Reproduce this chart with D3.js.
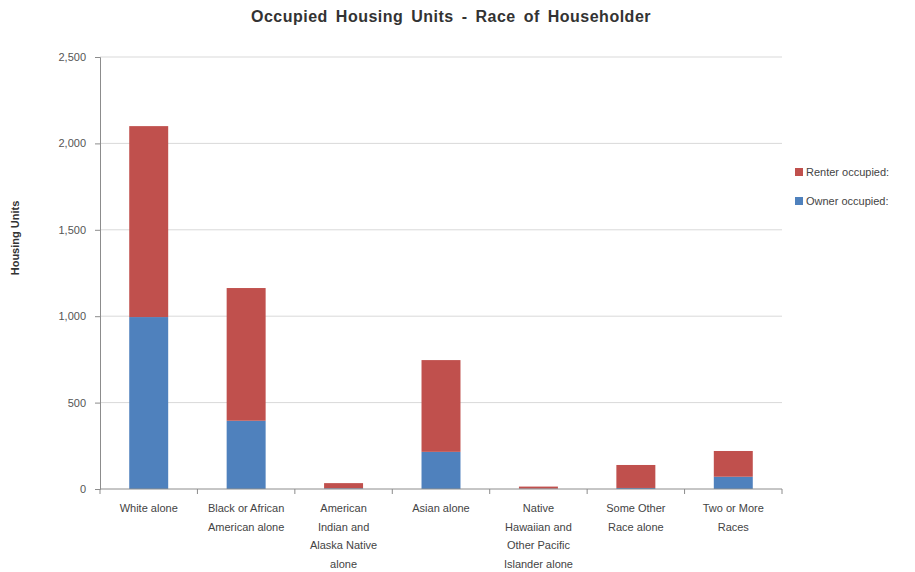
<!DOCTYPE html>
<html>
<head>
<meta charset="utf-8">
<script src="https://cdn.jsdelivr.net/npm/d3@7"></script>
<style>
body{margin:0;background:#fff;}
svg{display:block;font-family:"Liberation Sans",Arial,sans-serif;}
</style>
</head>
<body>
<svg id="chart" width="915" height="572"></svg>
<script>
// data ---------------------------------------------------------
var categories = [
	["White alone"],
	["Black or African", "American alone"],
	["American", "Indian and", "Alaska Native", "alone"],
	["Asian alone"],
	["Native", "Hawaiian and", "Other Pacific", "Islander alone"],
	["Some Other", "Race alone"],
	["Two or More", "Races"]
];
var ownerOccupied = [995, 395, 4, 215, 2, 6, 71];
var renterOccupied = [1105, 768, 30, 531, 12, 133, 149];
var seriesNames = ["Owner occupied:", "Renter occupied:"];
var seriesColors = ["#4F81BD", "#C0504D"];
var yTicks = [0, 500, 1000, 1500, 2000, 2500];

// build table for stack
var table = categories.map(function(c, i){
	return {key: i, owner: ownerOccupied[i], renter: renterOccupied[i]};
});

var svg = d3.select("#chart");
// plot edges (not "top" - that is window.top)
var plotLeft = 100, plotRight = 782, plotTop = 57, plotBottom = 489;

var x = d3.scaleBand()
	.domain(d3.range(categories.length))
	.range([plotLeft, plotRight])
	.paddingInner(0.6)
	.paddingOuter(0.3);

var y = d3.scaleLinear()
	.domain([0, 2500])
	.range([plotBottom, plotTop]);

// gridlines
svg.append("g")
	.selectAll("line")
	.data(yTicks.slice(1))
	.enter()
	.append("line")
	.attr("x1", plotLeft)
	.attr("x2", plotRight)
	.attr("y1", function(d){ return y(d); })
	.attr("y2", function(d){ return y(d); })
	.style("stroke", "#d9d9d9")
	.style("stroke-width", 1);

// y axis
var yAxis = svg.append("g")
	.attr("transform", "translate(" + plotLeft + ",0)")
	.call(d3.axisLeft(y).tickValues(yTicks).tickSize(5).tickPadding(9).tickFormat(d3.format(",")));
yAxis.select(".domain").style("stroke", "#8c8c8c");
yAxis.selectAll(".tick line").style("stroke", "#8c8c8c");
yAxis.selectAll("text").style("font-size", "11px").style("fill", "#555").style("font-family", "inherit");

// bars
var stack = d3.stack().keys(["owner", "renter"]);
var layers = stack(table);

svg.append("g")
	.selectAll("g")
	.data(layers)
	.enter()
	.append("g")
	.style("fill", function(d, i){ return seriesColors[i]; })
	.selectAll("rect")
	.data(function(d){ return d; })
	.enter()
	.append("rect")
	.attr("x", function(d){ return x(d.data.key); })
	.attr("width", x.bandwidth())
	.attr("y", function(d){ return y(d[1]); })
	.attr("height", function(d){ return y(d[0]) - y(d[1]); });

// x axis line and ticks between categories
svg.append("line")
	.attr("x1", plotLeft).attr("x2", plotRight)
	.attr("y1", plotBottom).attr("y2", plotBottom)
	.style("stroke", "#8c8c8c");
svg.append("g")
	.selectAll("line")
	.data(d3.range(categories.length + 1))
	.enter()
	.append("line")
	.attr("x1", function(d){ return plotLeft + d * (plotRight - plotLeft) / categories.length; })
	.attr("x2", function(d){ return plotLeft + d * (plotRight - plotLeft) / categories.length; })
	.attr("y1", plotBottom)
	.attr("y2", plotBottom + 5)
	.style("stroke", "#8c8c8c");

// category labels
var labels = svg.append("g")
	.selectAll("text")
	.data(categories)
	.enter()
	.append("text")
	.attr("text-anchor", "middle")
	.style("font-size", "11px")
	.style("fill", "#444")
	.attr("transform", function(d, i){
		return "translate(" + (x(i) + x.bandwidth() / 2) + "," + (plotBottom + 23) + ")";
	});
labels.selectAll("tspan")
	.data(function(d){ return d; })
	.enter()
	.append("tspan")
	.attr("x", 0)
	.attr("y", function(d, i){ return i * 18.7; })
	.text(function(d){ return d; });

// title
svg.append("text")
	.attr("x", 451)
	.attr("y", 22)
	.attr("text-anchor", "middle")
	.style("font-size", "16px")
	.style("font-weight", "bold")
	.style("letter-spacing", "0.5px")
	.style("word-spacing", "3px")
	.style("fill", "#333")
	.text("Occupied Housing Units - Race of Householder");

// y axis title
svg.append("text")
	.attr("transform", "translate(19,238) rotate(-90)")
	.attr("text-anchor", "middle")
	.style("font-size", "11px")
	.style("font-weight", "bold")
	.style("fill", "#333")
	.text("Housing Units");

// legend (renter on top)
var legend = svg.append("g")
	.selectAll("g")
	.data([1, 0])
	.enter()
	.append("g")
	.attr("transform", function(d, i){ return "translate(795," + (168 + i * 29) + ")"; });
legend.append("rect")
	.attr("width", 8)
	.attr("height", 8)
	.style("fill", function(d){ return seriesColors[d]; });
legend.append("text")
	.attr("x", 11)
	.attr("y", 8)
	.style("font-size", "11px")
	.style("fill", "#444")
	.text(function(d){ return seriesNames[d]; });
</script>
</body>
</html>
